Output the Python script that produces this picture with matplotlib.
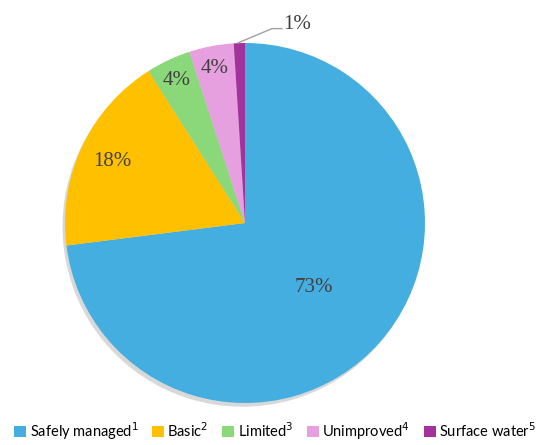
import matplotlib
matplotlib.use("Agg")
import matplotlib.pyplot as plt
from matplotlib.patches import Patch

categories = ["Safely managed", "Basic", "Limited", "Unimproved", "Surface water"]
notes = ["1", "2", "3", "4", "5"]
values = [73, 18, 4, 4, 1]
colors = ["#45AEE0", "#FFC000", "#8AD87A", "#E6A0E0", "#A2329C"]
label_pos = [(0.38, -0.36), (-0.74, 0.34), (-0.38, 0.79), (-0.17, 0.86), (0.29, 1.105)]

fig = plt.figure(figsize=(5.4, 4.45), dpi=100)
ax = fig.add_axes([(245 - 180) / 540, 42 / 445, 360 / 540, 360 / 445])
wedges, _ = ax.pie(values, colors=colors, startangle=90, counterclock=False,
                   wedgeprops=dict(linewidth=0),
                   shadow=dict(ox=-0.01, oy=-0.015, facecolor="#808080",
                               edgecolor="none", alpha=0.3))
ax.set_xlim(-1, 1)
ax.set_ylim(-1, 1)
ax.set_aspect("auto")
for v, (x, y) in zip(values, label_pos):
    ax.text(x, y, f"{v}%", ha="center", va="center", fontsize=15,
            family="Liberation Serif", color="#404040")
# leader line for the 1% label
ax.plot([-0.04, 0.15, 0.205], [1.0, 1.08, 1.08], color="#A0A0A0", lw=1, clip_on=False)

handles = [Patch(facecolor=c, edgecolor="none") for c in colors]
labels = [f"{c}$^{{{n}}}$" for c, n in zip(categories, notes)]
fig.legend(handles, labels, loc="lower center", bbox_to_anchor=(0.51, -0.022), ncol=5,
           frameon=False, handlelength=0.8, handleheight=0.8,
           handletextpad=0.25, columnspacing=0.95, prop=dict(family="Lato", size=10.5))
fig.savefig("out.png", dpi=100)
